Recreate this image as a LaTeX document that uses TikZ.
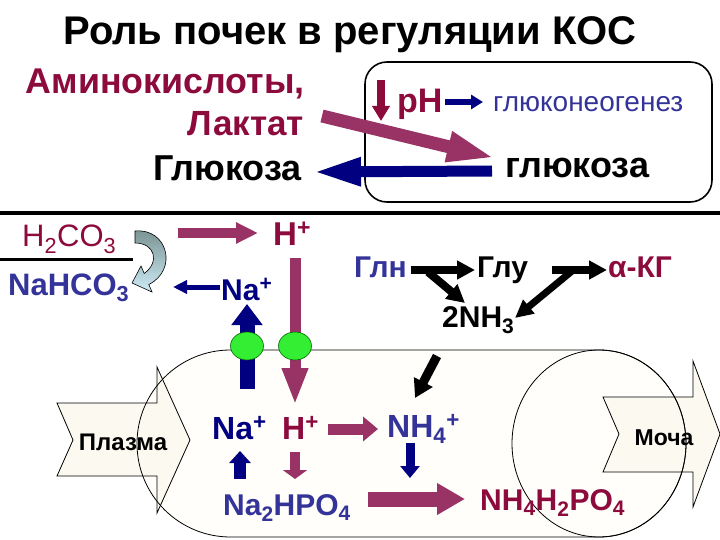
\documentclass[tikz,border=0pt]{standalone}
\usepackage{fontspec}
\setmainfont{Liberation Sans}
\usetikzlibrary{arrows.meta,shadings}
\definecolor{dred}{RGB}{140,10,60}
\definecolor{purp}{RGB}{153,51,102}
\definecolor{navy}{RGB}{0,0,128}
\definecolor{tblue}{RGB}{51,51,153}
\definecolor{grn}{RGB}{51,238,51}
\definecolor{cream}{RGB}{252,250,240}
\definecolor{tubefill}{RGB}{255,254,250}
\newcommand\myfs[1]{\fontsize{#1}{#1}\selectfont}
\begin{document}
\begin{tikzpicture}[x=1pt,y=-1pt,
  lbl/.style={inner sep=0pt, font=\bfseries\myfs{#1}},
  rlbl/.style={inner sep=0pt, font=\myfs{#1}},
  fat/.style n args={4}{draw=#1, line width=#2, -{Triangle[length=#3,width=#4]}},
  outl/.style={draw=black, line width=0.8pt}]
\useasboundingbox (0,0) rectangle (720,540);

% ---------- tubule and big arrows ----------
\fill[tubefill] (230.5,350) -- (599,350) arc[start angle=-90, end angle=90, x radius=87, y radius=93.5]
   -- (230.5,537) arc[start angle=90, end angle=270, radius=93.5] -- cycle;
\fill[cream] (57,403) -- (157,403) -- (157,367) -- (190,440) -- (157,513) -- (157,476) -- (57,476) -- (73,440) -- cycle;
\fill[cream] (603,397) -- (693,397) -- (693,361) -- (720,434) -- (693,507) -- (693,472) -- (603,472) -- (619,434) -- cycle;
\draw[outl] (230.5,350) -- (599,350) arc[start angle=-90, end angle=90, x radius=87, y radius=93.5]
   -- (230.5,537) arc[start angle=90, end angle=270, radius=93.5] -- cycle;
\draw[outl] (599,443.5) ellipse [x radius=87, y radius=93.5];
\draw[outl] (57,403) -- (157,403) -- (157,367) -- (190,440) -- (157,513) -- (157,476) -- (57,476) -- (73,440) -- cycle;
\draw[outl] (603,397) -- (693,397) -- (693,361) -- (720,434) -- (693,507) -- (693,472) -- (603,472) -- (619,434) -- cycle;

% ---------- title ----------
\node[lbl=40, anchor=base] (title) at (350,45) {Роль почек в регуляции КОС};

% ---------- top part ----------
\node[lbl=35.8, anchor=base east, text=dred] (amino) at (305,94) {Аминокислоты,};
\node[lbl=35, anchor=base east, text=dred] (lact) at (304,136) {Лактат};
\node[lbl=36, anchor=base east] (gluc1) at (302,181) {Глюкоза};

\draw[line width=1.6pt, rounded corners=22pt] (365,62) rectangle (712,202);
\node[lbl=34, anchor=base west, text=dred] (ph) at (397,113) {pH};
\node[rlbl=28, anchor=base west, text=tblue] (gng) at (493,112) {глюконеогенез};
\node[lbl=36, anchor=base west] (gluc2) at (505,178) {глюкоза};

\coordinate (phd1) at (381,80); \coordinate (phd2) at (381,121);
\draw[fat={dred}{8pt}{15pt}{17pt}] (phd1) -- (phd2);
\coordinate (pha1) at (445,102); \coordinate (pha2) at (483,102);
\draw[fat={navy}{6pt}{12pt}{14pt}] (pha1) -- (pha2);
\coordinate (la1) at (322,116); \coordinate (la2) at (495,158);
\draw[fat={purp}{13pt}{48pt}{28pt}] (la1) -- (la2);
\coordinate (gl1) at (492,171); \coordinate (gl2) at (313,172);
\draw[fat={navy}{11pt}{48pt}{26pt}] (gl1) -- (gl2);

% ---------- divider ----------
\draw[line width=3.5pt] (0,213) -- (720,213);

% ---------- middle left ----------
\node[rlbl=31, anchor=base west, text=dred] (h2co3) at (22,247) {H\textsubscript{2}CO\textsubscript{3}};
\draw[line width=3pt] (0,259) -- (133,259);
\node[lbl=31, anchor=base west, text=tblue] (nahco3) at (8,295) {NaHCO\textsubscript{3}};

\draw[top color={rgb,255:red,120;green,145;blue,145}, bottom color={rgb,255:red,205;green,235;blue,245}, draw=black, line width=0.6pt]
  (135,231) .. controls (168,228) and (178,270) .. (148.8,284.5) -- (152,292) -- (132,283)
  -- (141,266) -- (144.2,273.5) .. controls (160,262) and (155,243) .. (135,243) -- cycle;

\coordinate (hp1) at (178,233); \coordinate (hp2) at (258,233);
\draw[fat={purp}{10pt}{22pt}{20pt}] (hp1) -- (hp2);
\node[lbl=33, anchor=base west, text=dred] (hplus1) at (273,245) {H\textsuperscript{+}};
\node[lbl=30, anchor=base west, text=navy] (naplus1) at (221,300) {Na\textsuperscript{+}};
\coordinate (na1) at (220,287); \coordinate (na2) at (173,287);
\draw[fat={navy}{5pt}{14pt}{13pt}] (na1) -- (na2);

\coordinate (hv1) at (295,258); \coordinate (hv2) at (295,405);
\draw[fat={purp}{11pt}{37pt}{24pt}] (hv1) -- (hv2);
\coordinate (nv1) at (247,389); \coordinate (nv2) at (247,304);
\draw[fat={navy}{15pt}{21pt}{30pt}] (nv1) -- (nv2);
\filldraw[fill=grn, draw=green!40!black, line width=0.6pt] (247,346) ellipse [x radius=16.5, y radius=14];
\filldraw[fill=grn, draw=green!40!black, line width=0.6pt] (295,346) ellipse [x radius=16.5, y radius=14];

% ---------- middle right ----------
\node[lbl=30, anchor=base east, text=tblue] (gln) at (407,277) {Глн};
\node[lbl=30, anchor=base west] (glu) at (477,277) {Глу};
\node[lbl=30, anchor=base west, text=dred] (akg) at (608,277) {α-КГ};
\node[lbl=30, anchor=base west] (nh3) at (442,327) {2NH\textsubscript{3}};
\coordinate (g1) at (411,270); \coordinate (g2) at (475,270);
\coordinate (g3) at (428,272); \coordinate (g4) at (465,303);
\coordinate (g5) at (552,270); \coordinate (g6) at (607,270);
\coordinate (g7) at (572,271); \coordinate (g8) at (515,318);
\coordinate (n1) at (437,356); \coordinate (n2) at (415,398);
\draw[fat={black}{8pt}{18pt}{18pt}] (g1) -- (g2);
\draw[fat={black}{8pt}{18pt}{18pt}] (g3) -- (g4);
\draw[fat={black}{8pt}{18pt}{18pt}] (g5) -- (g6);
\draw[fat={black}{7pt}{18pt}{17pt}] (g7) -- (g8);
\draw[fat={black}{9pt}{18pt}{20pt}] (n1) -- (n2);

% ---------- bottom ----------
\node[lbl=32, anchor=base west, text=navy] (naplus2) at (212,439) {Na\textsuperscript{+}};
\node[lbl=32, anchor=base west, text=dred] (hplus2) at (282,439) {H\textsuperscript{+}};
\node[lbl=32, anchor=base west, text=tblue] (nh4) at (387,437) {NH\textsubscript{4}\textsuperscript{+}};
\node[lbl=30, anchor=base west, text=tblue] (na2hpo4) at (223,515) {Na\textsubscript{2}HPO\textsubscript{4}};
\node[lbl=30, anchor=base west, text=dred] (nh4h2po4) at (480,510) {NH\textsubscript{4}H\textsubscript{2}PO\textsubscript{4}};
\node[lbl=24, anchor=base] (plasma) at (123,450) {Плазма};
\node[lbl=23, anchor=base] (urine) at (664,445) {Моча};

\coordinate (b1) at (328,429); \coordinate (b2) at (378,429);
\draw[fat={purp}{11pt}{15pt}{24pt}] (b1) -- (b2);
\coordinate (b3) at (410,443); \coordinate (b4) at (410,478);
\draw[fat={navy}{9pt}{12pt}{19pt}] (b3) -- (b4);
\coordinate (b5) at (240,479); \coordinate (b6) at (240,451);
\draw[fat={navy}{12pt}{12pt}{21pt}] (b5) -- (b6);
\coordinate (b7) at (295,452); \coordinate (b8) at (295,479);
\draw[fat={purp}{10pt}{9pt}{24pt}] (b7) -- (b8);
\coordinate (b9) at (368,499); \coordinate (b10) at (465,499);
\draw[fat={purp}{15pt}{28pt}{30pt}] (b9) -- (b10);
\end{tikzpicture}
\end{document}
